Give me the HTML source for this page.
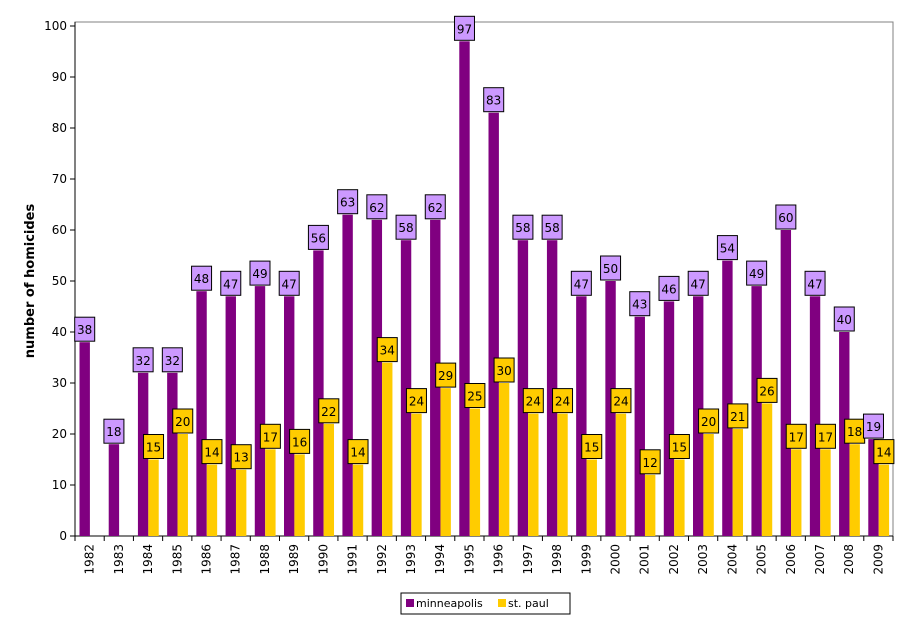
<!DOCTYPE html>
<html><head><meta charset="utf-8"><style>
body{margin:0;background:#fff;}
svg text{font-family:"DejaVu Sans","Liberation Sans",sans-serif;}
</style></head><body>
<svg id="chart" width="908" height="623" xmlns="http://www.w3.org/2000/svg">
<rect x="0" y="0" width="908" height="623" fill="#fff"/>
<g id="plot"></g>
<text transform="translate(34,281) rotate(-90)" text-anchor="middle" font-size="13" font-weight="bold" fill="#000">number of homicides</text>
<g>
<rect x="401" y="593" width="169" height="21" fill="#fff" stroke="#000" stroke-width="1"/>
<g>
<rect x="406" y="599" width="8" height="8" fill="#800080"/>
<text x="416" y="607" font-size="11" fill="#000">minneapolis</text></g>
<g>
<rect x="498" y="599" width="8" height="8" fill="#ffcc00"/>
<text x="508" y="607" font-size="11" fill="#000">st. paul</text></g>
</g>
</svg>
<script>
const years=["1982","1983","1984","1985","1986","1987","1988","1989","1990","1991","1992","1993","1994","1995","1996","1997","1998","1999","2000","2001","2002","2003","2004","2005","2006","2007","2008","2009"];
const minneapolis=[38,18,32,32,48,47,49,47,56,63,62,58,62,97,83,58,58,47,50,43,46,47,54,49,60,47,40,19];
const stpaul=[null,null,15,20,14,13,17,16,22,14,34,24,29,25,30,24,24,15,24,12,15,20,21,26,17,17,18,14];
const yTicks=[0,10,20,30,40,50,60,70,80,90,100];
const NS="http://www.w3.org/2000/svg";
const g=document.getElementById('plot');
const X0=75,X1=893,Y0=536,Y1=26,YMAX=100;
const cw=(X1-X0)/years.length;
function y(v){return Y0-(v/YMAX)*(Y0-Y1);}
function xc(i){return X0+i*cw;}
function mk(t,a,p){const e=document.createElementNS(NS,t);for(const k in a)e.setAttribute(k,a[k]);(p||g).appendChild(e);return e;}
const frame=mk('rect',{x:X0,y:22,width:X1-X0,height:Y0-22,fill:'none',stroke:'#808080'});


const yax=mk('line',{x1:X0,y1:22,x2:X0,y2:Y0,stroke:'#000'});


const xax=mk('line',{x1:X0,y1:Y0,x2:X1,y2:Y0,stroke:'#000'});


yTicks.forEach(v=>{
  mk('line',{x1:X0-5,y1:y(v),x2:X0,y2:y(v),stroke:'#000'});
  const t=mk('text',{x:X0-8,y:y(v)+4,'text-anchor':'end','font-size':'12'});
  t.textContent=v;
  
  
});
const bw=10.4;
function label(v,cx,color,name){
  const lg=mk('g',{});
  
  
  const by=y(v)-25;
  mk('rect',{x:cx-10,y:by,width:20,height:24,fill:color,stroke:'#000'},lg);
  const t=mk('text',{x:cx,y:by+17,'text-anchor':'middle','font-size':'12',fill:'#000'},lg);
  t.textContent=v;
}
years.forEach((yr,i)=>{
  const s=xc(i);
  mk('line',{x1:s,y1:Y0,x2:s,y2:Y0+5,stroke:'#000'});
  const px=s+4.5;
  const b=mk('rect',{x:px,y:y(minneapolis[i]),width:bw,height:Y0-y(minneapolis[i]),fill:'#800080'});
  
  
  if(stpaul[i]!=null){
    const sx=px+bw;
    const b2=mk('rect',{x:sx,y:y(stpaul[i]),width:bw,height:Y0-y(stpaul[i]),fill:'#ffcc00'});
    
    
  }
  label(minneapolis[i],px+bw/2,'#cc99ff','label-minneapolis-'+yr);
  if(stpaul[i]!=null) label(stpaul[i],px+bw*1.5,'#ffcc00','label-st-paul-'+yr);
  const t=mk('text',{transform:`translate(${s+cw/2+4},${Y0+8}) rotate(-90)`,'text-anchor':'end','font-size':'12'});
  t.textContent=yr;
  
  
});
mk('line',{x1:X1,y1:Y0,x2:X1,y2:Y0+5,stroke:'#000'});
</script>
</body></html>
